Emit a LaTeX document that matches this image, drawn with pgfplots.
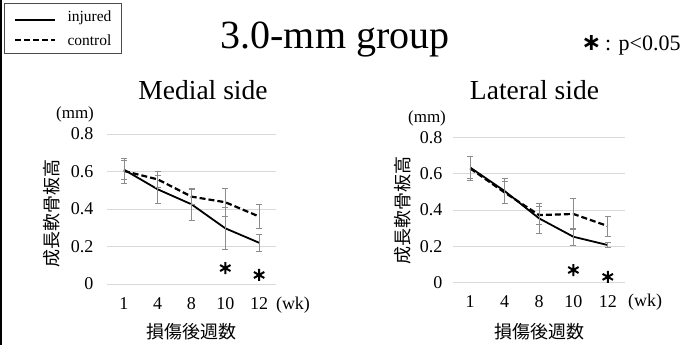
\documentclass[border=0pt]{standalone}
\usepackage{pgfplots}
\pgfplotsset{compat=1.18}
\usepackage{fontspec}
\setmainfont{Liberation Serif}
\newfontfamily\jp{Noto Sans CJK JP}
\newfontfamily\djv{DejaVu Sans}
\definecolor{gridgray}{HTML}{D9D9D9}
\definecolor{errgray}{HTML}{8C8C8C}

\pgfplotstableread{
x y e
1 0.610 0.050
2 0.505 0.077
3 0.425 0.085
4 0.297 0.110
5 0.220 0.045
}\medinj
\pgfplotstableread{
x y e
1 0.603 0.065
2 0.558 0.045
3 0.466 0.040
4 0.436 0.075
5 0.360 0.063
}\medctl
\pgfplotstableread{
x y e
1 0.635 0.060
2 0.505 0.068
3 0.354 0.084
4 0.252 0.045
5 0.206 0.013
}\latinj
\pgfplotstableread{
x y e
1 0.630 0.065
2 0.497 0.062
3 0.372 0.050
4 0.378 0.087
5 0.311 0.055
}\latctl

\pgfplotsset{
  myaxis/.style={
    scale only axis,
    anchor=south west,
    xmin=0.5, xmax=5.5, ymin=0, ymax=0.8,
    xtick={1,2,3,4,5}, xticklabels={1,4,8,10,12},
    ytick={0,0.2,0.4,0.6,0.8},
    ymajorgrids, grid style={gridgray, line width=0.8pt},
    axis line style={draw=none},
    major tick length=0pt,
    /pgf/number format/assume math mode=true,
    tick label style={font=\fontsize{18}{20}\selectfont},
    xticklabel style={yshift=-10pt},
    clip=false,
  },
  injs/.style={black, line width=1.8pt, mark=none,
    error bars/.cd, y dir=both, y explicit,
    error bar style={errgray, line width=0.7pt},
    error mark options={rotate=90, errgray, mark size=3pt, line width=0.7pt}},
  ctls/.style={black, line width=2.2pt, dash pattern=on 6pt off 3pt, mark=none,
    error bars/.cd, y dir=both, y explicit,
    error bar style={errgray, line width=0.7pt, solid},
    error mark options={rotate=90, errgray, mark size=3pt, line width=0.7pt, solid}},
  stars/.style={only marks, mark=asterisk, mark size=6pt, black, line width=2pt},
}

\begin{document}
\begin{tikzpicture}
\path[use as bounding box] (0,0) rectangle (694pt,345pt);
\draw[line width=1.5pt] (0.75pt,0) -- (0.75pt,345pt);

\node[font=\fontsize{40}{44}\selectfont] at (335pt,305pt) {3.0-mm group};
\node[font=\fontsize{22}{24}\selectfont] at (631pt,300pt) {{\djv\bfseries\fontsize{24}{24}\selectfont ∗}\,: p<0.05};

% legend
\draw[black!70, line width=0.6pt] (4pt,292pt) rectangle (121pt,342pt);
\draw[black, line width=1.8pt] (15pt,325pt) -- (55pt,325pt);
\draw[black, line width=2.2pt, dash pattern=on 6pt off 3pt] (15pt,305pt) -- (55pt,305pt);
\node[anchor=west, font=\fontsize{15.5}{17}\selectfont] at (64pt,327pt) {injured};
\node[anchor=west, font=\fontsize{15.5}{17}\selectfont] at (64pt,305pt) {control};

% texts around the axes
\node[font=\fontsize{27.5}{30}\selectfont] at (203pt,255pt) {Medial side};
\node[font=\fontsize{27.5}{30}\selectfont] at (534.5pt,255pt) {Lateral side};
\node[font=\fontsize{17}{19}\selectfont] at (75pt,231pt) {(mm)};
\node[font=\fontsize{17}{19}\selectfont] at (427pt,227pt) {(mm)};
\node[font=\fontsize{18}{20}\selectfont] at (293pt,40pt) {(wk)};
\node[font=\fontsize{18}{20}\selectfont] at (645pt,43pt) {(wk)};

% Medial
\begin{axis}[myaxis, at={(107pt,61pt)}, width=169pt, height=150pt,
  yticklabel style={xshift=-10pt},
  ylabel={\jp 成長軟骨板高},
  ylabel style={at={(axis description cs:-0.325,0.473)}, anchor=center, font=\fontsize{18}{20}\selectfont},
  xlabel={\jp 損傷後週数},
  xlabel style={at={(axis description cs:0.5,-0.32)}, anchor=center, font=\fontsize{18}{20}\selectfont},
]
\addplot[injs] table[x=x,y=y,y error=e] {\medinj};
\addplot[ctls] table[x=x,y=y,y error=e] {\medctl};
\addplot[stars] coordinates {(4,0.085) (5,0.048)};
\end{axis}

% Lateral
\begin{axis}[myaxis, at={(453pt,62.7pt)}, width=172pt, height=144.6pt,
  yticklabel style={xshift=-7pt},
  ylabel={\jp 成長軟骨板高},
  ylabel style={at={(axis description cs:-0.291,0.5)}, anchor=center, font=\fontsize{18}{20}\selectfont},
  xlabel={\jp 損傷後週数},
  xlabel style={at={(axis description cs:0.5,-0.344)}, anchor=center, font=\fontsize{18}{20}\selectfont},
]
\addplot[injs] table[x=x,y=y,y error=e] {\latinj};
\addplot[ctls] table[x=x,y=y,y error=e] {\latctl};
\addplot[stars] coordinates {(4,0.068) (5,0.03)};
\end{axis}
\end{tikzpicture}
\end{document}
